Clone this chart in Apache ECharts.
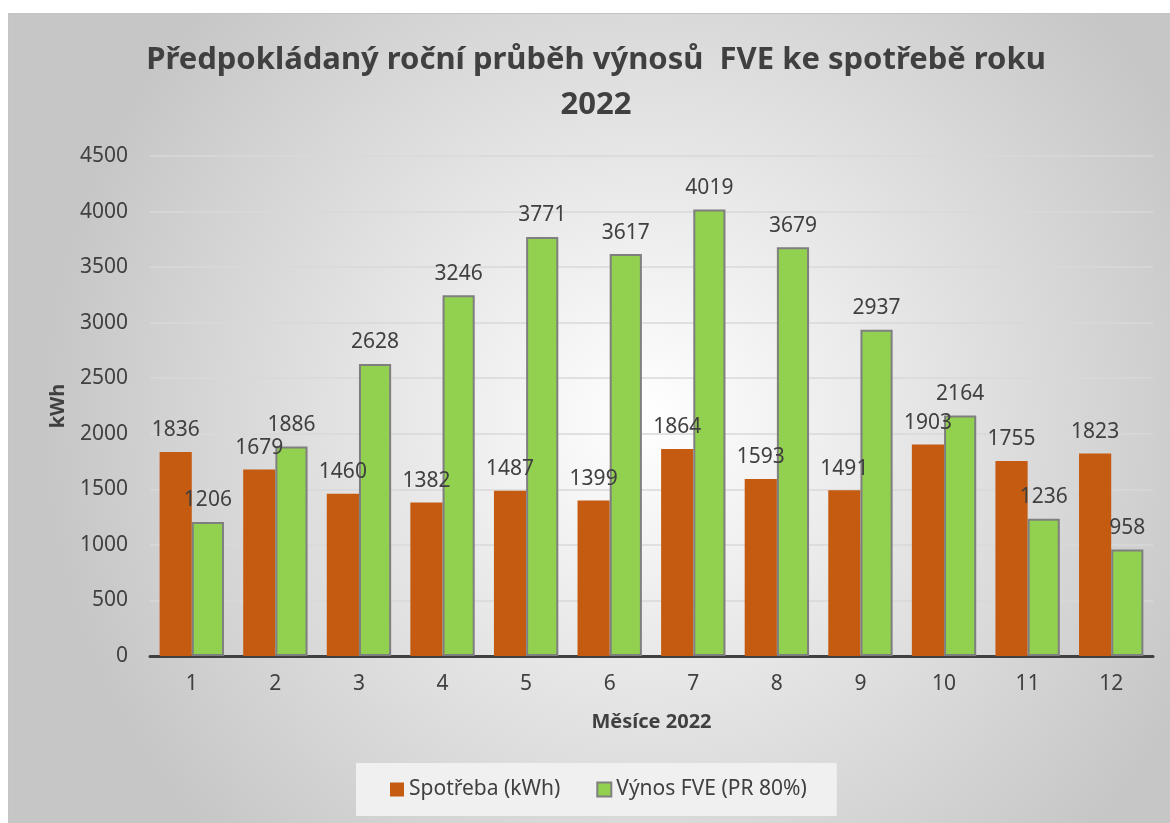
<!DOCTYPE html>
<html><head><meta charset="utf-8">
<script src="https://cdn.jsdelivr.net/npm/echarts@6/dist/echarts.min.js"></script>
<style>
html,body{margin:0;padding:0;background:#fff;}
#c{position:absolute;left:8px;top:13px;width:1162px;height:810px;border-left:1px solid #c4c4c4;border-top:1px solid #c4c4c4;box-sizing:border-box;}
</style></head>
<body><div id="c"></div>
<script>
const months = ['1','2','3','4','5','6','7','8','9','10','11','12'];
const spotreba = [1836,1679,1460,1382,1487,1399,1864,1593,1491,1903,1755,1823];
const vynos = [1206,1886,2628,3246,3771,3617,4019,3679,2937,2164,1236,958];
const seriesNames = ['Spotřeba (kWh)','Výnos FVE (PR 80%)'];
const titleText = 'Předpokládaný roční průběh výnosů  FVE ke spotřebě roku\n2022';

const FONT = '"Noto Sans", sans-serif';
const chart = echarts.init(document.getElementById('c'));
const lbl = {show:true, position:'top', distance:11, color:'#404040', fontSize:21, fontFamily:FONT};
chart.setOption({
  backgroundColor:{type:'radial', x:0.55, y:0.5, r:0.75,
    colorStops:[{offset:0,color:'#ffffff'},{offset:1,color:'#c6c6c6'}]},
  animation:false,
  title:{text:titleText, left:582, textAlign:'center', top:19,
    textStyle:{fontFamily:FONT, fontWeight:'bold', fontSize:31, color:'#404040', lineHeight:45}},
  grid:{left:141, right:17, top:142, bottom:167},
  legend:{bottom:7, left:347, itemWidth:14, itemHeight:14, itemGap:36,
    backgroundColor:'#f0f0f0', padding:[16,30,16,34],
    textStyle:{fontFamily:FONT, fontSize:21, color:'#404040'},
    data:[{name:seriesNames[0], icon:'rect'},{name:seriesNames[1], icon:'rect'}]},
  xAxis:{type:'category', data:months, name:'Měsíce 2022', nameLocation:'middle', nameGap:56,
    nameTextStyle:{fontFamily:FONT, fontWeight:'bold', fontSize:20, color:'#404040'},
    axisLine:{lineStyle:{color:'#404040', width:3}}, axisTick:{show:false},
    axisLabel:{fontFamily:FONT, fontSize:21, color:'#404040', margin:18}},
  yAxis:{type:'value', min:0, max:4500, interval:500, name:'kWh', nameLocation:'middle', nameGap:82, nameRotate:90,
    nameTextStyle:{fontFamily:FONT, fontWeight:'bold', fontSize:20, color:'#404040'},
    axisLine:{show:false}, axisTick:{show:false},
    splitLine:{lineStyle:{color:'#d9d9d9', width:1.5}},
    axisLabel:{fontFamily:FONT, fontSize:21, color:'#404040', margin:22, formatter:v => String(v)}},
  series:[
    {name:seriesNames[0], type:'bar', data:spotreba, barGap:'0%', barCategoryGap:'23%',
      itemStyle:{color:'#C55A11'}, label:lbl},
    {name:seriesNames[1], type:'bar', data:vynos, barGap:'0%', barCategoryGap:'23%',
      itemStyle:{color:'#92D050', borderColor:'#7f7f7f', borderWidth:2}, label:lbl}
  ]
});
</script></body></html>
